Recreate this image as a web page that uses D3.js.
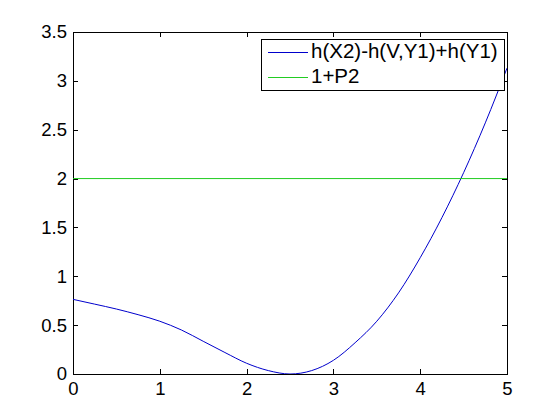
<!DOCTYPE html>
<html>
<head>
<meta charset="utf-8">
<script src="https://cdn.jsdelivr.net/npm/d3@7"></script>
<style>
  html, body { margin: 0; padding: 0; background: #fff; }
  svg { display: block; }
  text { font-family: "Liberation Sans", Arial, Helvetica, sans-serif; }
</style>
</head>
<body>
<svg id="chart" width="560" height="420"></svg>
<script>
// ---- data ----
const xValues = [0, 0.25, 0.5, 0.75, 1.0, 1.25, 1.5, 1.75, 2.0, 2.25, 2.5, 2.75, 3.0, 3.25, 3.5, 3.75, 4.0, 4.25, 4.5, 4.75, 5.0];
const blueValues = [0.764, 0.715, 0.665, 0.607, 0.54, 0.45, 0.335, 0.22, 0.11, 0.035, 0.0, 0.035, 0.14, 0.32, 0.54, 0.83, 1.19, 1.6, 2.06, 2.57, 3.13];
const greenValue = 2;
const seriesNames = ["h(X2)-h(V,Y1)+h(Y1)", "1+P2"];
const xTicks = [0, 1, 2, 3, 4, 5];
const yTicks = [0, 0.5, 1, 1.5, 2, 2.5, 3, 3.5];
const colors = ["#0000cc", "#22cc22"];

// ---- layout ----
(function () {
const svg = d3.select("#chart");
const pL = 73, pR = 507, pT = 32, pB = 374;
const x = d3.scaleLinear().domain([0, 5]).range([pL, pR]);
const y = d3.scaleLinear().domain([0, 3.5]).range([pB, pT]);
const tickLen = 5;
const fontSize = 18.5;

// box
svg.append("rect").attr("x", pL).attr("y", pT)
  .attr("width", pR - pL).attr("height", pB - pT)
  .attr("fill", "#fff").attr("stroke", "#000").attr("stroke-width", 1)
  .attr("shape-rendering", "crispEdges");

// axes (ticks inward, both sides)
const axB = d3.axisBottom(x).tickValues(xTicks).tickFormat(d3.format("d")).tickSizeInner(-tickLen).tickSizeOuter(0).tickPadding(8);
const axT = d3.axisTop(x).tickValues(xTicks).tickFormat("").tickSizeInner(-tickLen).tickSizeOuter(0);
const axL = d3.axisLeft(y).tickValues(yTicks).tickFormat(d => String(d)).tickSizeInner(-tickLen).tickSizeOuter(0).tickPadding(6);
const axR = d3.axisRight(y).tickValues(yTicks).tickFormat("").tickSizeInner(-tickLen).tickSizeOuter(0);

function style(g) {
  g.select(".domain").remove();
  g.selectAll(".tick line").attr("stroke", "#000").attr("shape-rendering", "crispEdges");
  g.selectAll(".tick text").attr("fill", "#000").attr("font-size", fontSize)
    .attr("font-family", "'Liberation Sans', Arial, Helvetica, sans-serif");
}
svg.append("g").attr("transform", `translate(0,${pB})`).call(axB).call(style);
svg.append("g").attr("transform", `translate(0,${pT})`).call(axT).call(style);
svg.append("g").attr("transform", `translate(${pL},0)`).call(axL).call(style);
svg.append("g").attr("transform", `translate(${pR},0)`).call(axR).call(style);

// clip
svg.append("clipPath").attr("id", "clip").append("rect")
  .attr("x", pL).attr("y", pT).attr("width", pR - pL).attr("height", pB - pT);

const pts = xValues.map((v, i) => [v, blueValues[i]]);
const line = d3.line().x(d => x(d[0])).y(d => y(d[1])).curve(d3.curveMonotoneX);

svg.append("path").datum(pts).attr("d", line)
  .attr("fill", "none").attr("stroke", colors[0]).attr("stroke-width", 1)
  .attr("clip-path", "url(#clip)");

svg.append("path").datum([[0, greenValue], [5, greenValue]]).attr("d", d3.line().x(d => x(d[0])).y(d => y(d[1])))
  .attr("fill", "none").attr("stroke", colors[1]).attr("stroke-width", 1);

// legend
const lg = svg.append("g");
lg.append("rect").attr("x", 261.5).attr("y", 39.5).attr("width", 243).attr("height", 51)
  .attr("fill", "#fff").attr("stroke", "#000").attr("stroke-width", 1);
seriesNames.forEach((name, i) => {
  const cy = 52.5 + i * 25;
  lg.append("path").attr("d", `M268,${cy}H308`)
    .attr("stroke", colors[i]).attr("stroke-width", 1.2).attr("fill", "none");
  lg.append("text").attr("x", 311).attr("y", cy + 5)
    .attr("font-size", 20.5).attr("fill", "#000").text(name);
});
})();
</script>
</body>
</html>
